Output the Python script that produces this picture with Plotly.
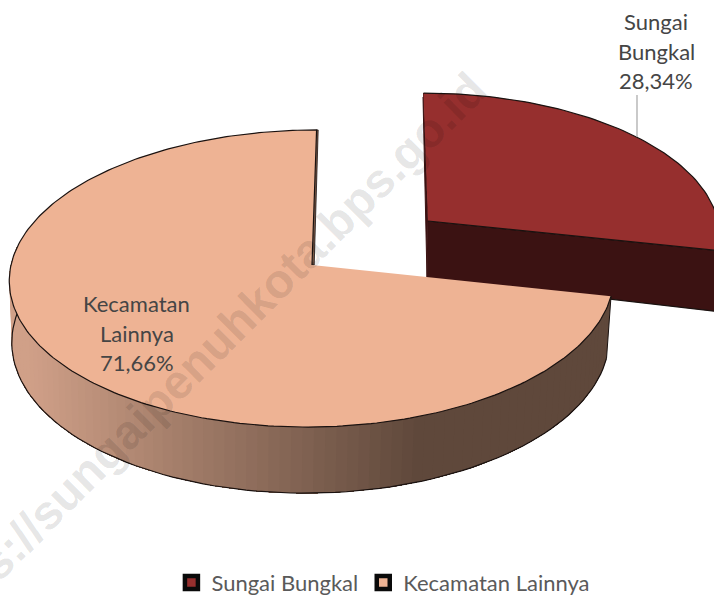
import numpy as np
import plotly.graph_objects as go

categories = ["Sungai Bungkal", "Kecamatan Lainnya"]
values = [28.34, 71.66]
top_colors = ["#962F2E", "#EEB394"]
wall_light = (208, 160, 136)
wall_dark = (95, 72, 59)
red_wall = "#3B1212"
edge = "#1a1210"
text_color = "#454545"
watermark = "https://sungaipenuhkota.bps.go.id"

W, H = 714, 596
P = 0.0909
split = 360 * values[0] / sum(values)


def project(theta_deg, apex, a, b, s):
    th = np.radians(theta_deg)
    u, v = np.sin(th), -np.cos(th)
    d = 1 - P * v
    return apex[0] + (a * u + s * v) / d, apex[1] + b * v / d


fig = go.Figure()


def poly(x, y, fill, line=None, width=1):
    fig.add_trace(go.Scatter(
        x=list(x), y=list(y), mode="lines", fill="toself", fillcolor=fill,
        line=dict(color=line or fill, width=width),
        hoverinfo="skip", showlegend=False))


def stroke(x, y, color=edge, width=1.2):
    fig.add_trace(go.Scatter(x=list(x), y=list(y), mode="lines",
                             line=dict(color=color, width=width),
                             hoverinfo="skip", showlegend=False))


# Exploded slice: Sungai Bungkal
r_top = dict(apex=(428, 221), a=290, b=139.6, s=4.9)
r_bot = dict(apex=(427, 278), a=290, b=158, s=4.9)
th = np.linspace(0, split, 80)
rx, ry = project(th, **r_top)
ex, ey = project(split, **r_top)
ebx, eby = project(split, **r_bot)
poly([r_top["apex"][0], ex, ebx, r_bot["apex"][0]],
     [r_top["apex"][1], ey, eby, r_bot["apex"][1]], red_wall, edge, 1.2)
poly([rx[0], r_top["apex"][0], r_bot["apex"][0], rx[0] - 0.5],
     [ry[0], r_top["apex"][1], r_bot["apex"][1], ry[0] + 4], red_wall, red_wall, 1)
poly(list(rx) + [r_top["apex"][0]], list(ry) + [r_top["apex"][1]],
     top_colors[0], edge, 1.2)

# Main slice: Kecamatan Lainnya
k_top = dict(apex=(312, 265), a=301, b=147.3, s=-5.0)
k_bot = dict(apex=(311, 326), a=297.5, b=152, s=-5.0)
th = np.linspace(split, 277, 90)
tx, ty = project(th, **k_top)
bx, by = project(th, **k_bot)
for i in range(len(th) - 1):
    f = min(max((tx[i] - 30) / (425 - 30), 0), 1)
    c = tuple(round(wall_light[j] + (wall_dark[j] - wall_light[j]) * f) for j in range(3))
    col = "rgb(%d,%d,%d)" % c
    poly(list(tx[i:]) + list(bx[i:][::-1]), list(ty[i:]) + list(by[i:][::-1]), col, col, 0)
stroke([tx[0], bx[0]], [ty[0], by[0]], edge, 1)
stroke(bx, by, edge, 1.2)
stroke([tx[-1], bx[-1]], [ty[-1], by[-1]], "#5a4a40", 1)

th = np.linspace(split, 360, 260)
tx, ty = project(th, **k_top)
sx, sy = project(360, **k_top)
poly([sx, sx + 1.6, k_top["apex"][0] + 2.2, k_top["apex"][0]],
     [sy, sy, k_top["apex"][1], k_top["apex"][1]], "#7a5a48", edge, 0.8)
poly(list(tx) + [k_top["apex"][0]], list(ty) + [k_top["apex"][1]],
     top_colors[1], edge, 1.2)

# Leader line for the Sungai Bungkal label
stroke([637, 637], [95, 137], "#A6A6A6", 1.2)

# Legend entries
for name, col in zip(categories, top_colors):
    fig.add_trace(go.Scatter(
        x=[None], y=[None], mode="markers", name=name,
        marker=dict(symbol="square", size=13, color=col,
                    line=dict(color="#0a0a0a", width=4.5))))

ann = [dict(x=200, y=358, xref="x", yref="y", text=watermark, textangle=-45,
            showarrow=False,
            font=dict(family="Liberation Sans", size=48, weight="bold", color="rgba(0,0,0,0.11)"),
            xanchor="center", yanchor="middle")]


def pct(v):
    return ("%.2f%%" % v).replace(".", ",")


lines0 = ["Sungai", "Bungkal", pct(values[0])]
lines1 = ["Kecamatan", "Lainnya", pct(values[1])]
for lines, x, ys in ((lines0, 656, (21, 51, 80)), (lines1, 136.5, (303, 333, 362))):
    for t, y in zip(lines, ys):
        ann.append(dict(x=x, y=y, xref="x", yref="y", text=t, showarrow=False,
                        font=dict(family="Lato", size=22, color=text_color),
                        xanchor="center", yanchor="middle"))

fig.update_layout(
    width=W, height=H, margin=dict(l=0, r=0, t=0, b=0, autoexpand=False),
    paper_bgcolor="white", plot_bgcolor="white",
    xaxis=dict(range=[0, W], visible=False, fixedrange=True),
    yaxis=dict(range=[H, 0], visible=False, fixedrange=True),
    annotations=ann,
    showlegend=True,
    legend=dict(orientation="h", x=0.537, y=-0.013, xanchor="center", yanchor="bottom",
                font=dict(family="Lato", size=22, color="#5a5a5a"),
                bgcolor="rgba(0,0,0,0)", itemwidth=30),
)
fig.write_html("out.html", config={"displayModeBar": False},
               post_script="document.body.style.margin='0';")
